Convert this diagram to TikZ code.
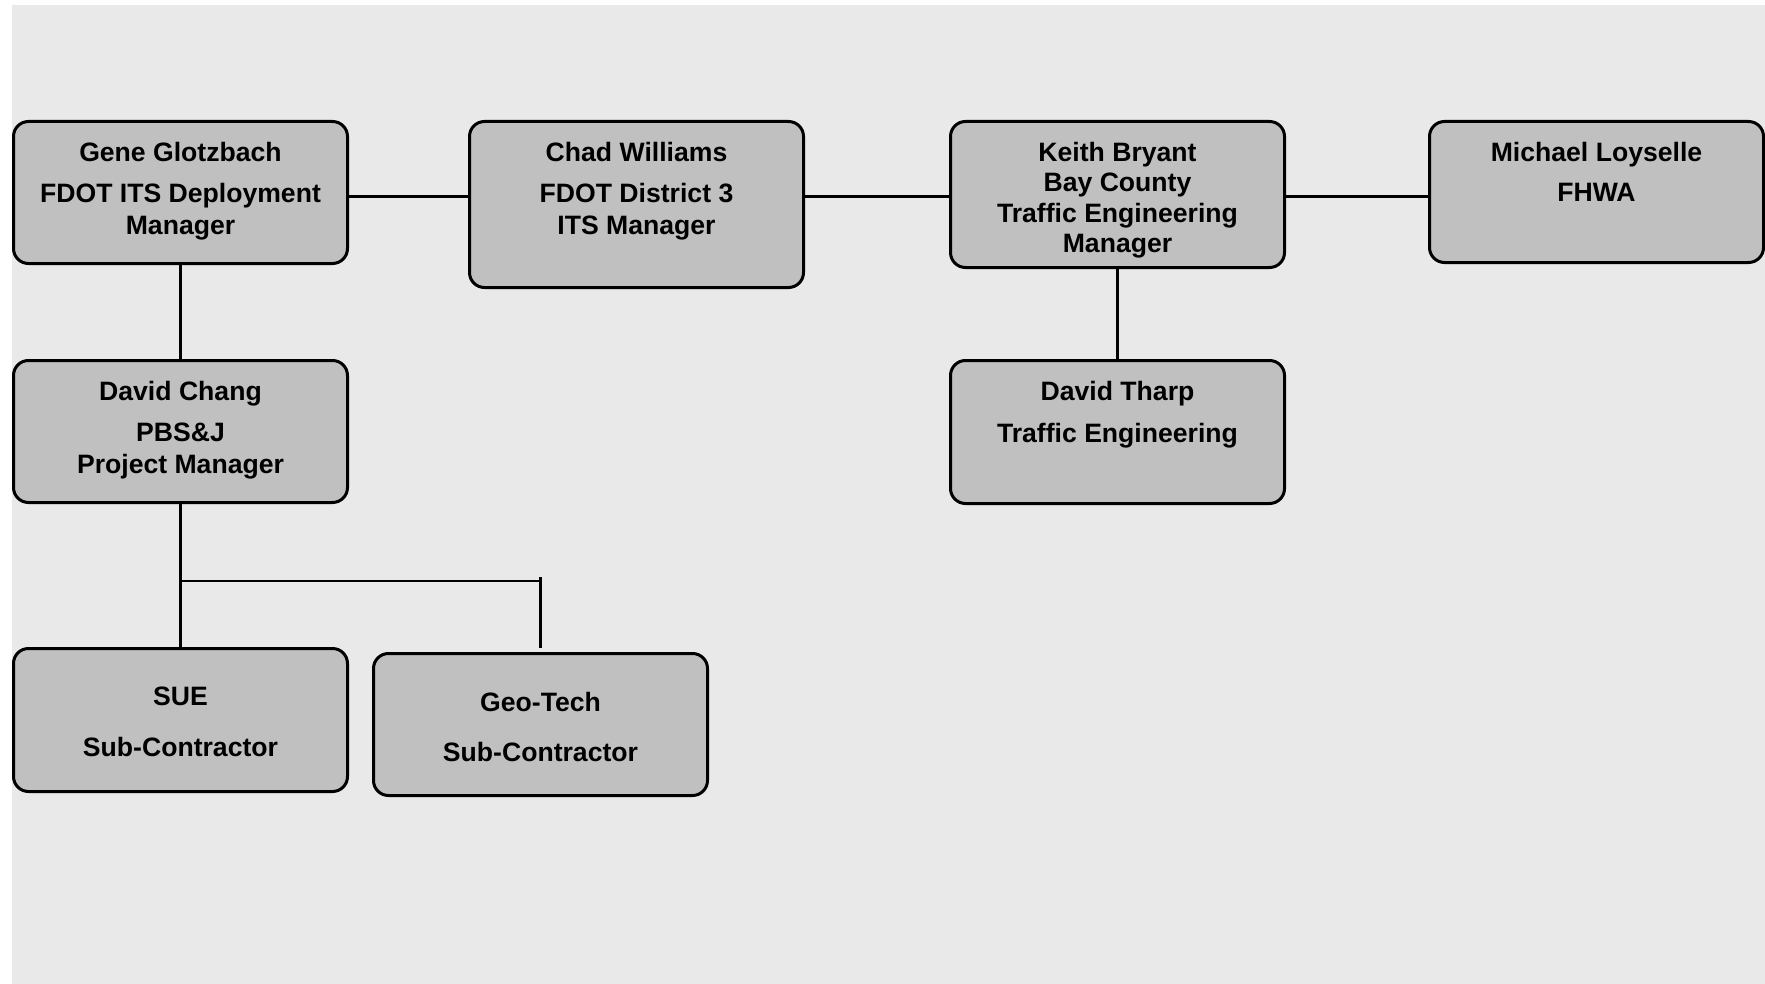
\documentclass[tikz,border=0pt]{standalone}
\usepackage{fontspec}
\setmainfont{Liberation Sans}
\usepackage{tikz}
\usetikzlibrary{positioning}
\definecolor{bggray}{RGB}{233,233,233}
\definecolor{boxgray}{RGB}{192,192,192}

\begin{document}
\begin{tikzpicture}[-, line width=1.3pt, node distance=60pt]
	\tikzstyle{person}=[draw, fill=boxgray, line width=1.5pt, rounded corners=7.5pt,
		minimum width=167pt, inner ysep=0pt, align=center, anchor=north west,
		font=\bfseries\fontsize{13.3}{16}\selectfont, text height=56.5pt, text depth=14.5pt]
	\useasboundingbox (0,0) rectangle (882.5pt,-492pt);
	\fill[bggray] (6pt,-2.5pt) rectangle (882.5pt,-492pt);
	\node[person] (gene) at (6pt,-60pt) {Gene Glotzbach\\[4.5pt]FDOT ITS Deployment\\Manager};
	\node[person, text depth=26.5pt] (chad) [right=59.5pt of gene.north east, anchor=north west]
		{Chad Williams\\[4.5pt]FDOT District 3\\ITS Manager};
	\node[person, text height=65.6pt, text depth=7.4pt] (keith) [right=72pt of chad.north east, anchor=north west]
		{Keith Bryant\\[-0.8pt]Bay County\\[-0.8pt]Traffic Engineering\\[-0.8pt]Manager};
	\node[person, text height=40pt, text depth=30.5pt] (michael) [right=71pt of keith.north east, anchor=north west]
		{Michael Loyselle\\[4pt]FHWA};
	\node[person] (chang) [below=47pt of gene.south west, anchor=north west]
		{David Chang\\[4.5pt]PBS\&J\\Project Manager};
	\node[person, text height=41pt, text depth=30.5pt] (tharp) [below=45pt of keith.south west, anchor=north west]
		{David Tharp\\[5pt]Traffic Engineering};
	\node[person, text height=54pt, text depth=17.5pt] (sue) [below=71.5pt of chang.south west, anchor=north west]
		{SUE\\[9.5pt]Sub-Contractor};
	\node[person, text height=54pt, text depth=17pt] (geo) [right=11.5pt of sue.north east, anchor=north west, yshift=-2.5pt]
		{Geo-Tech\\[9pt]Sub-Contractor};
	\coordinate (fork) at ([yshift=-38.5pt]chang.south);

	\path ([yshift=-2pt]gene.east) edge ([yshift=-2pt]gene.east -| chad.west);
	\path ([yshift=-1pt]keith.west -| chad.east) edge ([yshift=-1pt]keith.west);
	\path ([yshift=-1pt]keith.east) edge ([yshift=-1pt]keith.east -| michael.west);
	\path (gene) edge (chang);
	\path (keith) edge (tharp);
	\path (chang) edge (sue);
	\path (fork) edge (fork -| geo.north);
	\path ([yshift=2pt]fork -| geo.north) edge ([yshift=2pt]geo.north);
\end{tikzpicture}
\end{document}
